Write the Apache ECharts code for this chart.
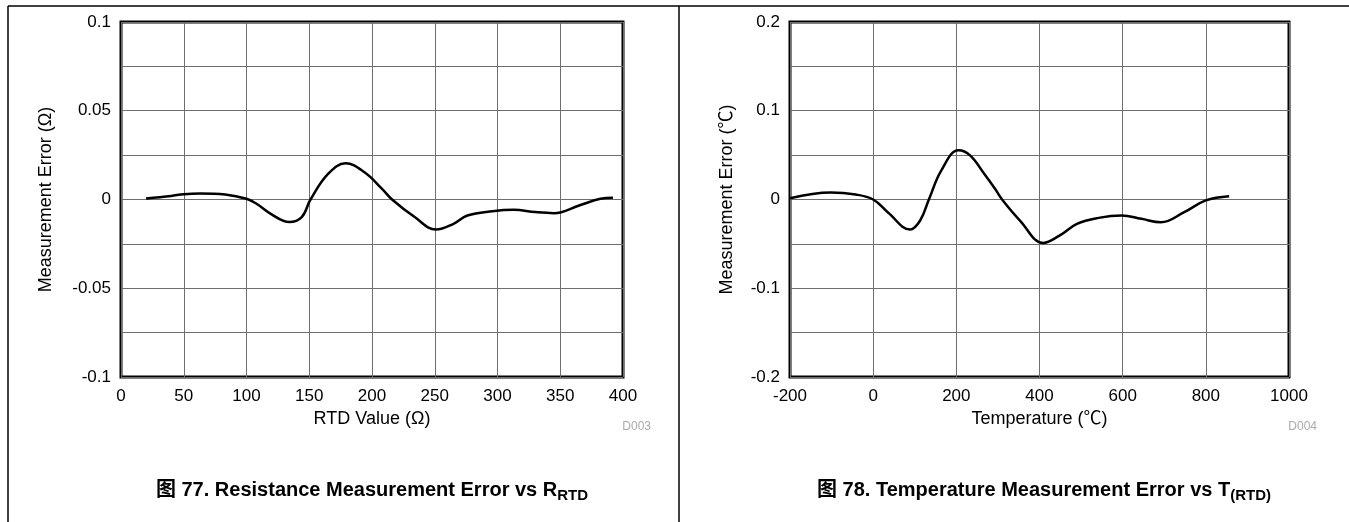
<!DOCTYPE html>
<html>
<head>
<meta charset="utf-8">
<script src="https://cdn.jsdelivr.net/npm/echarts@6/dist/echarts.min.js"></script>
<style>
  html, body { margin: 0; padding: 0; background: #fff; }
  #chart { width: 1349px; height: 522px; }
</style>
</head>
<body>
<div id="chart"></div>
<script>
// left: resistance error vs RTD value
const rtdX = [20, 40, 50, 63, 83, 100, 108, 120, 134, 144, 151, 165, 179, 194, 208, 216, 234, 251, 265, 276, 296, 313, 330, 345, 365, 382, 392];
const rtdErr = [0.0006, 0.002, 0.003, 0.0034, 0.0028, 0.0004, -0.0024, -0.0084, -0.0127, -0.0099, 0, 0.0144, 0.0204, 0.0153, 0.006, 0, -0.0099, -0.0169, -0.0137, -0.009, -0.0066, -0.0058, -0.0071, -0.0077, -0.0034, 0.0004, 0.001];
// right: temperature error vs temperature
const tempX = [-200, -102, -42, 0, 35, 89, 113, 134, 164, 205, 233, 267, 293, 310, 353, 409, 448, 490, 542, 598, 645, 692, 748, 800, 856];
const tempErr = [0.0015, 0.0079, 0.0056, 0, -0.0143, -0.0339, -0.0237, 0, 0.0328, 0.0554, 0.0497, 0.029, 0.0121, 0, -0.0237, -0.049, -0.0407, -0.0275, -0.0207, -0.018, -0.0218, -0.0256, -0.0143, -0.001, 0.0037];

const leftYTicks = [-0.1, -0.05, 0, 0.05, 0.1];
const leftYLabels = ['-0.1', '-0.05', '0', '0.05', '0.1'];
const rightYTicks = [-0.2, -0.1, 0, 0.1, 0.2];
const rightYLabels = ['-0.2', '-0.1', '0', '0.1', '0.2'];

const FONT = "'Liberation Sans', Arial, 'Noto Sans CJK SC', sans-serif";

function pickLabel(ticks, labels) {
  return function (v) {
    for (let i = 0; i < ticks.length; i++) {
      if (Math.abs(v - ticks[i]) < 1e-9) return labels[i];
    }
    return '';
  };
}

const grid = { show: true, borderColor: '#000', borderWidth: 3, backgroundColor: 'transparent' };
const split = { show: true, lineStyle: { color: '#6e6e6e', width: 1 } };
const tickFont = { color: '#000', fontSize: 17, fontFamily: FONT };
const nameFont = { color: '#000', fontSize: 18, fontFamily: FONT };

const chart = echarts.init(document.getElementById('chart'));
chart.setOption({
  animation: false,
  grid: [
    Object.assign({ left: 121, top: 22, width: 502, height: 355 }, grid),
    Object.assign({ left: 790, top: 22, width: 499, height: 355 }, grid)
  ],
  xAxis: [
    {
      type: 'value', gridIndex: 0, min: 0, max: 400, interval: 50,
      name: 'RTD Value (Ω)', nameLocation: 'middle', nameGap: 32, nameTextStyle: nameFont,
      axisLine: { show: false }, axisTick: { show: false },
      axisLabel: Object.assign({ margin: 11, formatter: v => String(v) }, tickFont), splitLine: split
    },
    {
      type: 'value', gridIndex: 1, min: -200, max: 1000, interval: 200,
      name: 'Temperature (℃)', nameLocation: 'middle', nameGap: 32, nameTextStyle: nameFont,
      axisLine: { show: false }, axisTick: { show: false },
      axisLabel: Object.assign({ margin: 11, formatter: v => String(v) }, tickFont), splitLine: split
    }
  ],
  yAxis: [
    {
      type: 'value', gridIndex: 0, min: -0.1, max: 0.1, interval: 0.025,
      name: 'Measurement Error (Ω)', nameLocation: 'middle', nameGap: 66, nameTextStyle: nameFont,
      axisLine: { show: false }, axisTick: { show: false },
      axisLabel: Object.assign({ margin: 10, formatter: pickLabel(leftYTicks, leftYLabels) }, tickFont),
      splitLine: split
    },
    {
      type: 'value', gridIndex: 1, min: -0.2, max: 0.2, interval: 0.05,
      name: 'Measurement Error (℃)', nameLocation: 'middle', nameGap: 54, nameTextStyle: nameFont,
      axisLine: { show: false }, axisTick: { show: false },
      axisLabel: Object.assign({ margin: 10, formatter: pickLabel(rightYTicks, rightYLabels) }, tickFont),
      splitLine: split
    }
  ],
  series: [
    {
      type: 'line', xAxisIndex: 0, yAxisIndex: 0, smooth: 0.4, symbol: 'none',
      lineStyle: { color: '#000', width: 2.5 },
      data: rtdX.map((x, i) => [x, rtdErr[i]])
    },
    {
      type: 'line', xAxisIndex: 1, yAxisIndex: 1, smooth: 0.4, symbol: 'none',
      lineStyle: { color: '#000', width: 2.5 },
      data: tempX.map((x, i) => [x, tempErr[i]])
    }
  ],
  graphic: [
    // frame lines
    { type: 'line', shape: { x1: 8, y1: 6, x2: 1349, y2: 6 }, style: { stroke: '#000', lineWidth: 1.5 } },
    { type: 'line', shape: { x1: 8, y1: 6, x2: 8, y2: 522 }, style: { stroke: '#000', lineWidth: 1.5 } },
    { type: 'line', shape: { x1: 679, y1: 6, x2: 679, y2: 522 }, style: { stroke: '#000', lineWidth: 1.5 } },
    // file codes
    { type: 'text', x: 651, y: 427, style: { text: 'D003', fill: '#aaa', font: '12px ' + FONT, align: 'right', verticalAlign: 'middle' } },
    { type: 'text', x: 1317, y: 427, style: { text: 'D004', fill: '#aaa', font: '12px ' + FONT, align: 'right', verticalAlign: 'middle' } },
    // captions
    {
      type: 'text', x: 372, y: 490,
      style: {
        text: '{b|图 77. Resistance Measurement Error vs R}{s|RTD}',
        align: 'center', verticalAlign: 'middle',
        rich: {
          b: { fontSize: 20, fontWeight: 'bold', fontFamily: FONT, fill: '#000', lineHeight: 26 },
          s: { fontSize: 15, fontWeight: 'bold', fontFamily: FONT, fill: '#000', padding: [11, 0, 0, 0] }
        }
      }
    },
    {
      type: 'text', x: 1044, y: 490,
      style: {
        text: '{b|图 78. Temperature Measurement Error vs T}{s|(RTD)}',
        align: 'center', verticalAlign: 'middle',
        rich: {
          b: { fontSize: 20, fontWeight: 'bold', fontFamily: FONT, fill: '#000', lineHeight: 26 },
          s: { fontSize: 15, fontWeight: 'bold', fontFamily: FONT, fill: '#000', padding: [11, 0, 0, 0] }
        }
      }
    }
  ]
});
</script>
</body>
</html>
